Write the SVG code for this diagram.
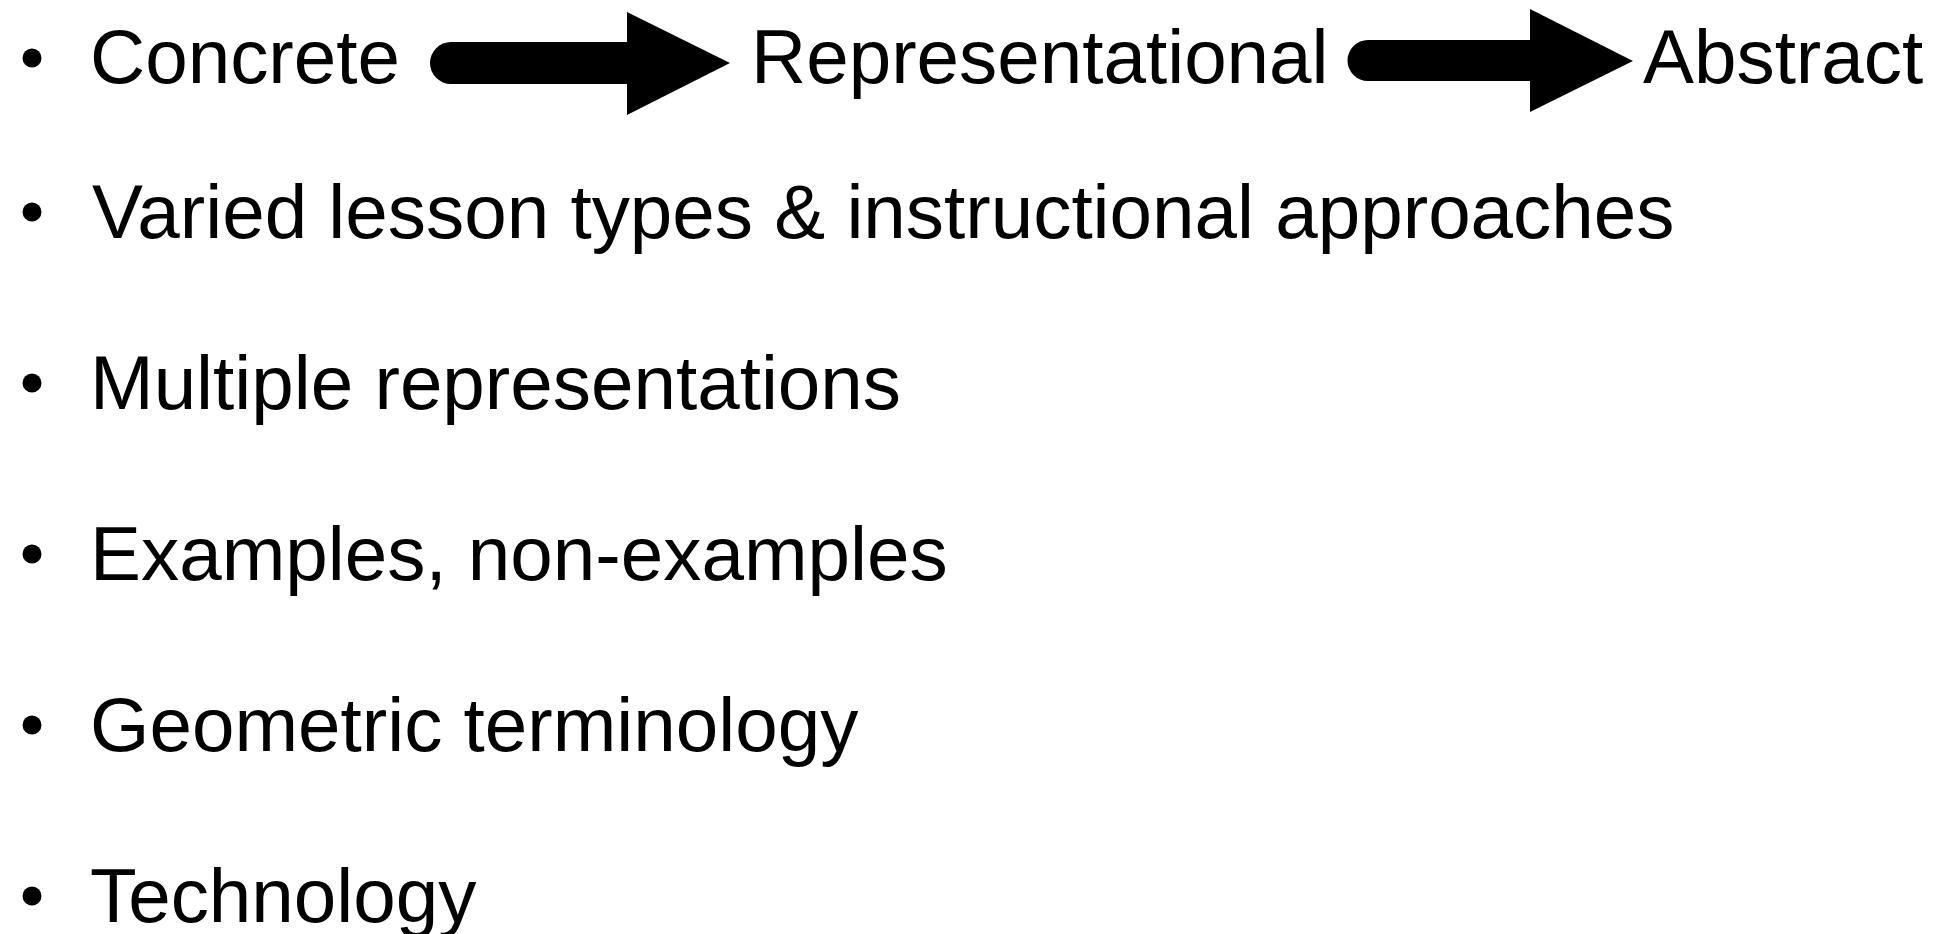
<svg xmlns="http://www.w3.org/2000/svg" width="1945" height="934" viewBox="0 0 1945 934">
<style>
  text { font-family: "Liberation Sans", Arial, sans-serif; font-size: 76.4px; fill: #000; }
  .bullet { fill: #000; }
  .arrow { fill: #000; stroke: none; }
</style>
<rect width="1945" height="934" fill="#fff"/>
<g id="bullet-1">
  <circle class="bullet" cx="32" cy="58" r="9.5"/>
  <g id="concrete"><text x="90" y="83">Concrete</text></g>
  <g id="representational"><text x="751" y="83">Representational</text></g>
  <g id="abstract"><text x="1643" y="83">Abstract</text></g>
</g>
<g id="connectors">
  <path class="arrow" d="M451,42 L627,42 L627,12 L730,63 L627,115 L627,84 L451,84 A21,21 0 0 1 451,42 Z"/>
  <path class="arrow" d="M1368,40 L1530,40 L1530,9 L1633,61 L1530,112 L1530,81 L1368,81 A20.5,20.5 0 0 1 1368,40 Z"/>
</g>
<g id="bullet-2">
  <circle class="bullet" cx="32" cy="212" r="9.5"/>
  <text x="92" y="238">Varied lesson types &amp; instructional approaches</text>
</g>
<g id="bullet-3">
  <circle class="bullet" cx="32" cy="383" r="9.5"/>
  <text x="90" y="409">Multiple representations</text>
</g>
<g id="bullet-4">
  <circle class="bullet" cx="32" cy="554" r="9.5"/>
  <text x="90" y="580">Examples, non-examples</text>
</g>
<g id="bullet-5">
  <circle class="bullet" cx="32" cy="725" r="9.5"/>
  <text x="90" y="751">Geometric terminology</text>
</g>
<g id="bullet-6">
  <circle class="bullet" cx="32" cy="896" r="9.5"/>
  <text x="90" y="922">Technology</text>
</g>
</svg>
